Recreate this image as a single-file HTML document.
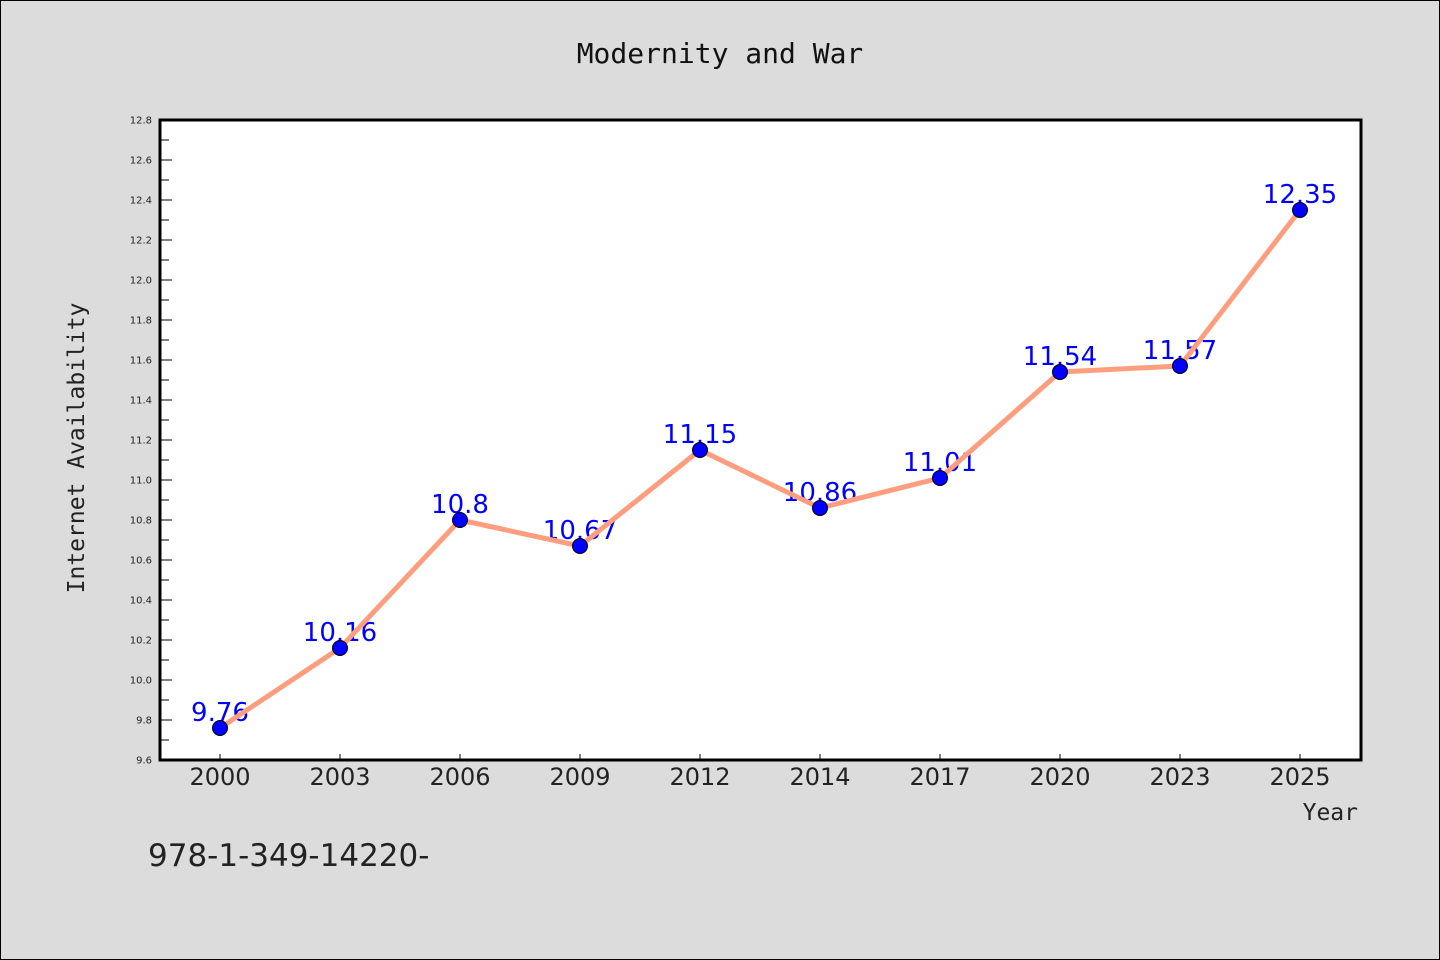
<!DOCTYPE html>
<html><head><meta charset="utf-8"><style>
body{margin:0;background:#dcdcdc}
svg{display:block}
</style></head><body>
<svg id="chart" width="1440" height="960" xmlns="http://www.w3.org/2000/svg">
<rect x="0.5" y="0.5" width="1439" height="959" fill="#dcdcdc" stroke="#000"/>
<text x="720" y="63" text-anchor="middle" font-family="DejaVu Sans Mono, monospace" font-size="28" fill="#111">Modernity and War</text>
<rect x="160" y="120" width="1201" height="640" fill="#fff"/>
<g id="yaxis"></g>
<g id="xaxis"></g>
<g id="labels"></g>
<g id="series"></g>
<path d="M160,120 V760 H1361 V120 Z" fill="none" stroke="#000" stroke-width="3"/>
<text transform="translate(84,448) rotate(-90)" text-anchor="middle" font-family="DejaVu Sans Mono, monospace" font-size="23" fill="#222">Internet Availability</text>
<text x="1358" y="820" text-anchor="end" font-family="DejaVu Sans Mono, monospace" font-size="23" fill="#222">Year</text>
<text x="148" y="866" font-family="DejaVu Sans, sans-serif" font-size="31" fill="#222">978-1-349-14220-</text>
</svg>
<script>
const categories=["2000","2003","2006","2009","2012","2014","2017","2020","2023","2025"];
const values=[9.76,10.16,10.8,10.67,11.15,10.86,11.01,11.54,11.57,12.35];
const yTicks=[9.6,9.8,10.0,10.2,10.4,10.6,10.8,11.0,11.2,11.4,11.6,11.8,12.0,12.2,12.4,12.6,12.8];
const yMin=9.6,yMax=12.8;
const NS="http://www.w3.org/2000/svg";
function x(i){return 160+1200/categories.length*(i+0.5);}
function y(v){return 760-(v-yMin)/(yMax-yMin)*640;}
function mk(tag,attrs,parent,text){const e=document.createElementNS(NS,tag);for(const k in attrs)e.setAttribute(k,attrs[k]);if(text!==undefined)e.textContent=text;parent.appendChild(e);return e;}
const ya=document.getElementById('yaxis');
yTicks.forEach((t,i)=>{
  const ty=y(t);
  const tk=mk('line',{x1:160,x2:172,y1:ty,y2:ty,stroke:'#000','stroke-width':1},ya);
  
  
  const lb=mk('text',{x:152,y:ty+3.5,'text-anchor':'end','font-family':'DejaVu Sans, sans-serif','font-size':10,fill:'#222'},ya,t.toFixed(1));
  
  
  if(i<yTicks.length-1){
    const my=y(t+0.1);
    const mt=mk('line',{x1:160,x2:169,y1:my,y2:my,stroke:'#000','stroke-width':1},ya);
    
    
  }
});
const xa=document.getElementById('xaxis');
categories.forEach((c,i)=>{
  const tk=mk('line',{x1:x(i),x2:x(i),y1:760,y2:754,stroke:'#000','stroke-width':1},xa);
  
  
  const lb=mk('text',{x:x(i),y:785,'text-anchor':'middle','font-family':'DejaVu Sans, sans-serif','font-size':24,fill:'#222'},xa,c);
  
  
});
const lg=document.getElementById('labels');
values.forEach((v,i)=>{
  const t=mk('text',{x:x(i),y:y(v)-7,'text-anchor':'middle','font-family':'DejaVu Sans, sans-serif','font-size':26,fill:'#0000ff'},lg,String(v));
  
  
});
const s=document.getElementById('series');
const pl=mk('polyline',{points:values.map((v,i)=>x(i)+','+y(v)).join(' '),fill:'none',stroke:'#ff9e7f','stroke-width':5,'stroke-linejoin':'round'},s);


values.forEach((v,i)=>{
  const c=mk('circle',{cx:x(i),cy:y(v),r:7.5,fill:'#0000ff',stroke:'#000','stroke-width':1},s);
  
  
});
</script>
</body></html>
